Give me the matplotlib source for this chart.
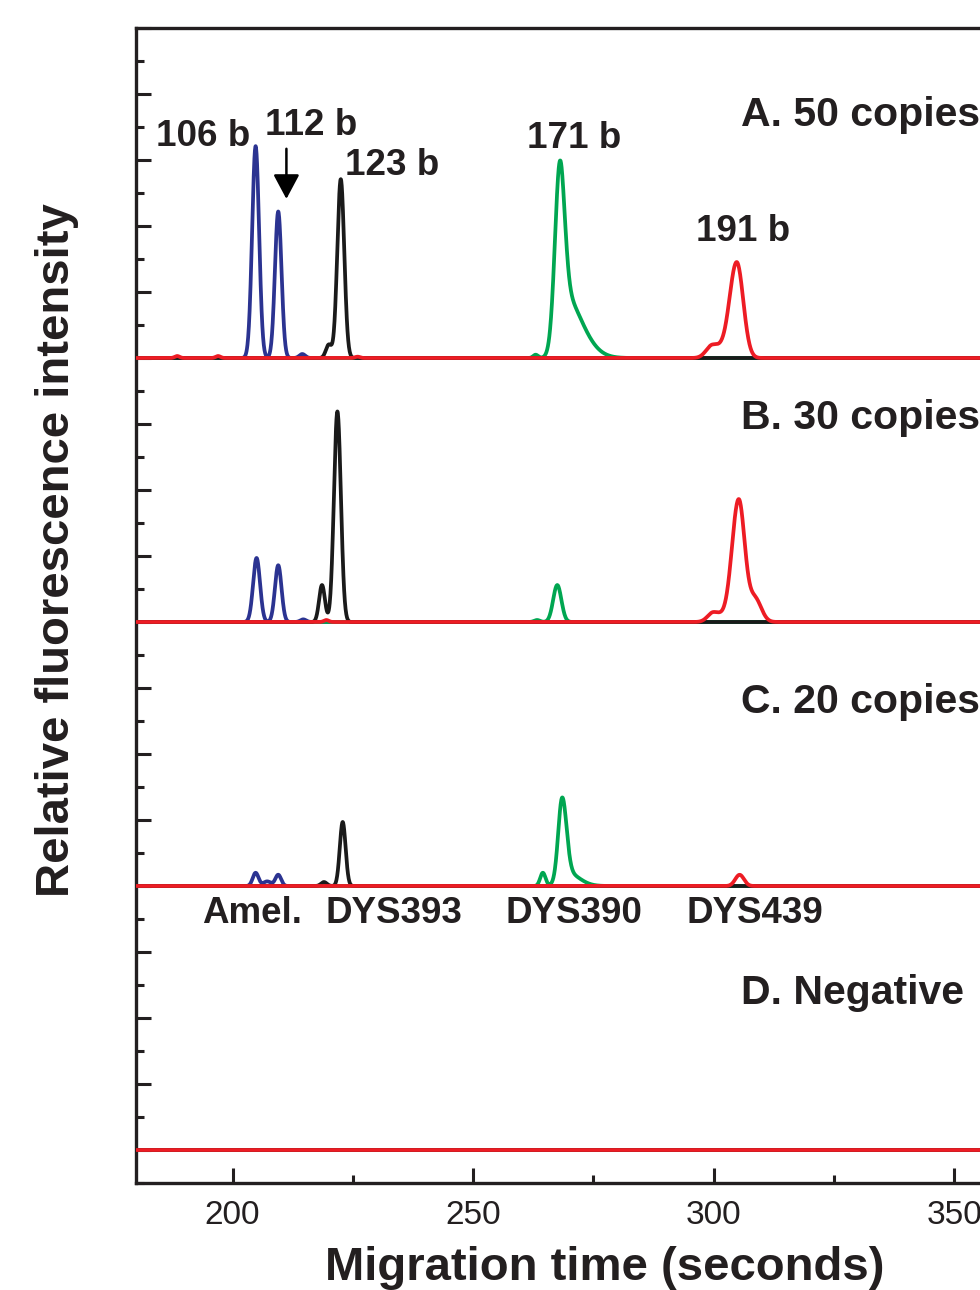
import numpy as np
import matplotlib.pyplot as plt
from matplotlib.ticker import MultipleLocator

plt.rcParams['font.family'] = ['Liberation Sans', 'DejaVu Sans']

# migration time axis (seconds)
t = np.arange(178.0, 362.0, 0.05)

# each panel sits on its own baseline (in intensity units)
panel_base = {'A': 12.0, 'B': 8.0, 'C': 4.0, 'D': 0.0}
panel_names = ['A. 50 copies', 'B. 30 copies', 'C. 20 copies', 'D. Negative']
panel_label_y = [15.52, 10.92, 6.62, 2.21]

# peaks per dye channel: (time, height, sigma_left, sigma_right)
blue_A = [(204.8, 3.21, 0.72, 0.72), (209.5, 2.22, 0.68, 0.68), (214.5, 0.06, 0.6, 0.6)]
black_A = [(220.0, 0.20, 0.6, 0.6), (222.5, 2.71, 0.72, 0.72)]
green_A = [(263.0, 0.05, 0.5, 0.5), (268.0, 2.05, 1.0, 1.0), (268.5, 1.0, 1.3, 3.8)]
red_A = [(188.5, 0.03, 0.5, 0.5), (197.0, 0.03, 0.5, 0.5), (226.0, 0.02, 0.5, 0.5),
         (299.8, 0.20, 1.3, 1.8), (304.8, 1.45, 1.5, 1.35)]

blue_B = [(205.0, 0.97, 0.72, 0.72), (209.5, 0.86, 0.68, 0.68), (214.7, 0.04, 0.6, 0.6)]
black_B = [(218.6, 0.56, 0.6, 0.6), (221.8, 3.19, 0.72, 0.72)]
green_B = [(263.3, 0.03, 0.6, 0.6), (267.5, 0.56, 0.85, 0.85)]
red_B = [(219.5, 0.03, 0.5, 0.5), (300.0, 0.15, 1.2, 1.7), (305.2, 1.85, 1.4, 1.25),
         (308.6, 0.35, 1.3, 1.3)]

blue_C = [(204.8, 0.20, 0.6, 0.6), (207.2, 0.07, 0.8, 0.8), (209.5, 0.17, 0.6, 0.6)]
black_C = [(219.0, 0.06, 0.6, 0.6), (222.9, 0.97, 0.6, 0.6)]
green_C = [(264.5, 0.20, 0.55, 0.55), (268.5, 1.18, 0.8, 0.9), (269.5, 0.2, 1.5, 2.5)]
red_C = [(305.4, 0.17, 0.9, 0.9)]

blue_D, black_D, green_D, red_D = [], [], [], []

# drawing order: blue, green, black, red (red baseline ends up on top)
channels = {
    'A': [blue_A, green_A, black_A, red_A],
    'B': [blue_B, green_B, black_B, red_B],
    'C': [blue_C, green_C, black_C, red_C],
    'D': [blue_D, green_D, black_D, red_D],
}
dye_colors = ['#2b3391', '#00a651', '#1a1a1a', '#ed1c24']

# size labels above panel A peaks: (text, time, y)
size_labels = [('106 b', 193.9, 15.36), ('112 b', 216.4, 15.53), ('123 b', 233.2, 14.91),
               ('171 b', 271.0, 15.33), ('191 b', 306.2, 13.92)]
# locus labels under panel C
locus_labels = [('Amel.', 204.1), ('DYS393', 233.6), ('DYS390', 271.0), ('DYS439', 308.5)]
locus_y = 3.44

text_color = '#231f20'


def trace(peaks):
    y = np.zeros_like(t)
    for c, h, sl, sr in peaks:
        s = np.where(t < c, sl, sr)
        y += h * np.exp(-(t - c) ** 2 / (2 * s ** 2))
    return y


fig = plt.figure(figsize=(9.8, 12.9), dpi=100)
ax = fig.add_axes([136.3 / 980, 107 / 1290, 866 / 980, 1155 / 1290])

for key, base in panel_base.items():
    for z, (peaks, col) in enumerate(zip(channels[key], dye_colors)):
        ax.plot(t, base + trace(peaks), color=col, lw=2.7, zorder=2 + z,
                solid_joinstyle='round')

for txt, x, y in size_labels:
    ax.text(x, y, txt, ha='center', va='center', fontsize=26.5,
            fontweight='bold', color=text_color)

# arrow pointing at the 112 b peak
ax.annotate('', xy=(211.2, 14.41), xytext=(211.2, 15.17),
            arrowprops=dict(arrowstyle='-|>,head_width=0.8,head_length=1.5',
                            color='black', lw=1.8, shrinkA=0, shrinkB=0))

for name, y in zip(panel_names, panel_label_y):
    ax.text(305.6, y, name, ha='left', va='baseline', fontsize=29.5,
            fontweight='bold', color=text_color, clip_on=False)

for txt, x in locus_labels:
    ax.text(x, locus_y, txt, ha='center', va='baseline', fontsize=26.5,
            fontweight='bold', color=text_color)

ax.set_xlim(180, 360)
ax.set_ylim(-0.5, 17)
ax.xaxis.set_major_locator(MultipleLocator(50))
ax.xaxis.set_minor_locator(MultipleLocator(25))
ax.yaxis.set_major_locator(MultipleLocator(1))
ax.yaxis.set_minor_locator(MultipleLocator(0.5))
ax.tick_params(which='both', direction='in', width=2.2, color='#231f20')
ax.tick_params(which='major', length=11)
ax.tick_params(which='minor', length=6)
ax.tick_params(axis='x', labelsize=24, pad=12, labelcolor=text_color)
ax.tick_params(axis='y', labelleft=False)
for sp in ax.spines.values():
    sp.set_linewidth(2.4)
    sp.set_color('#231f20')

fig.text(605 / 980, 10 / 1290, 'Migration time (seconds)', ha='center', va='baseline',
         fontsize=34, fontweight='bold', color=text_color)
fig.text(57 / 980, 0.5736, 'Relative fluorescence intensity', ha='center', va='center',
         rotation=90, fontsize=34, fontweight='bold', color=text_color)

fig.savefig('out.png', dpi=100)
